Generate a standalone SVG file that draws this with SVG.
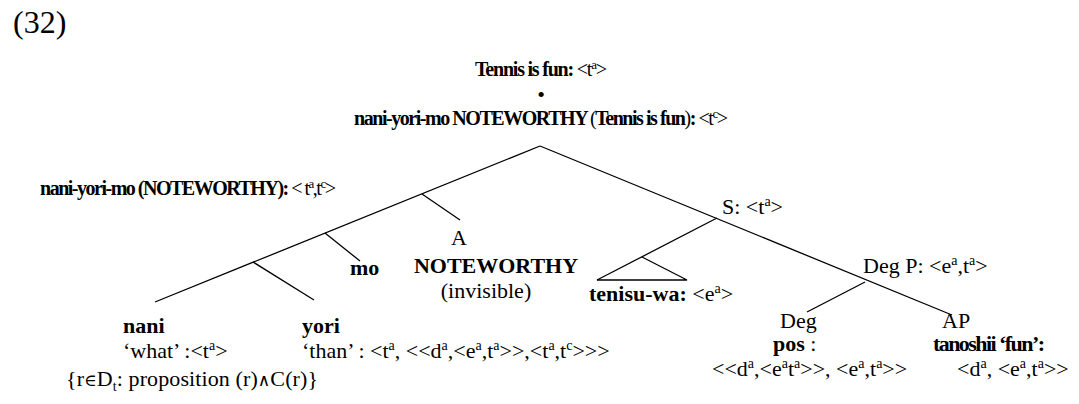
<svg xmlns="http://www.w3.org/2000/svg" width="1079" height="404" viewBox="0 0 1079 404">
<style>
text{font-family:"Liberation Serif","Times New Roman",serif;font-size:22px;fill:#000}
.b{font-weight:bold}
.s{font-size:14px}
.h{font-size:20px}
.h .s{font-size:13px}
.m{text-anchor:middle}
.y{font-family:"DejaVu Serif",serif;font-size:17px}
line,polyline{stroke:#000;stroke-width:1.3;fill:none}
</style>
<rect width="1079" height="404" fill="#fff"/>
<text x="13" y="33" style="font-size:32px">(32)</text>
<g id="root">
<text x="475" y="76" class="h" textLength="132" lengthAdjust="spacing"><tspan class="b">Tennis is fun:</tspan> &lt;t<tspan class="s" dy="-7">a</tspan><tspan dy="7">&gt;</tspan></text>
<text x="541" y="102" class="m">•</text>
<text x="354" y="125" class="h" textLength="374" lengthAdjust="spacing"><tspan class="b">nani-yori-mo NOTEWORTHY </tspan>(<tspan class="b">Tennis is fun</tspan>)<tspan class="b">:</tspan> &lt;t<tspan class="s" dy="-7">c</tspan><tspan dy="7">&gt;</tspan></text>
</g>
<g id="connectors">
<line x1="540" y1="146" x2="155" y2="302"/>
<line x1="540" y1="146" x2="952" y2="315"/>
<line x1="422" y1="194" x2="460" y2="220"/>
<line x1="325" y1="233" x2="360" y2="261"/>
<line x1="253" y1="262" x2="314" y2="300"/>
<line x1="717" y1="218" x2="597" y2="280"/>
<polyline points="642,257 687,280 597,280"/>
<line x1="865" y1="282" x2="807" y2="312"/>
</g>
<g id="n-nanyorimo">
<text x="40" y="195" class="h" textLength="296" lengthAdjust="spacing"><tspan class="b">nani-yori-mo (NOTEWORTHY):</tspan> &lt; t<tspan class="s" dy="-7">a</tspan><tspan dy="7">,t</tspan><tspan class="s" dy="-7">c</tspan><tspan dy="7">&gt;</tspan></text>
</g>
<g id="n-A">
<text x="459" y="245" class="m">A</text>
<text x="496" y="273" class="m b">NOTEWORTHY</text>
<text x="486" y="298" class="m">(invisible)</text>
</g>
<g id="n-mo">
<text x="350" y="275" class="b">mo</text>
</g>
<g id="n-nani">
<text x="123" y="333" class="b">nani</text>
<text x="123" y="358">‘what’ :&lt;t<tspan class="s" dy="-8">a</tspan><tspan dy="8">&gt;</tspan></text>
<text x="66" y="386" textLength="252" lengthAdjust="spacing">{r<tspan class="y">∈</tspan>D<tspan class="s" dy="5">t</tspan><tspan dy="-5">: proposition (r)</tspan><tspan class="y">∧</tspan>C(r)}</text>
</g>
<g id="n-yori">
<text x="302" y="333" class="b">yori</text>
<text x="302" y="358">‘than’ : &lt;t<tspan class="s" dy="-8">a</tspan><tspan dy="8">, &lt;&lt;d</tspan><tspan class="s" dy="-8">a</tspan><tspan dy="8">,&lt;e</tspan><tspan class="s" dy="-8">a</tspan><tspan dy="8">,t</tspan><tspan class="s" dy="-8">a</tspan><tspan dy="8">&gt;&gt;,&lt;t</tspan><tspan class="s" dy="-8">a</tspan><tspan dy="8">,t</tspan><tspan class="s" dy="-8">c</tspan><tspan dy="8">&gt;&gt;&gt;</tspan></text>
</g>
<g id="n-S">
<text x="722" y="214">S: &lt;t<tspan class="s" dy="-8">a</tspan><tspan dy="8">&gt;</tspan></text>
</g>
<g id="n-tenisuwa">
<text x="589" y="301"><tspan class="b">tenisu-wa:</tspan> &lt;e<tspan class="s" dy="-8">a</tspan><tspan dy="8">&gt;</tspan></text>
</g>
<g id="n-DegP">
<text x="863" y="273">Deg P: &lt;e<tspan class="s" dy="-8">a</tspan><tspan dy="8">,t</tspan><tspan class="s" dy="-8">a</tspan><tspan dy="8">&gt;</tspan></text>
</g>
<g id="n-Deg">
<text x="780" y="328">Deg</text>
<text x="773" y="351"><tspan class="b">pos</tspan> :</text>
<text x="712" y="376">&lt;&lt;d<tspan class="s" dy="-8">a</tspan><tspan dy="8">,&lt;e</tspan><tspan class="s" dy="-8">a</tspan><tspan dy="8">t</tspan><tspan class="s" dy="-8">a</tspan><tspan dy="8">&gt;&gt;, &lt;e</tspan><tspan class="s" dy="-8">a</tspan><tspan dy="8">,t</tspan><tspan class="s" dy="-8">a</tspan><tspan dy="8">&gt;&gt;</tspan></text>
</g>
<g id="n-AP">
<text x="942" y="328">AP</text>
<text x="933" y="351" class="b" textLength="112" lengthAdjust="spacing">tanoshii ‘fun’:</text>
<text x="957" y="376">&lt;d<tspan class="s" dy="-8">a</tspan><tspan dy="8">, &lt;e</tspan><tspan class="s" dy="-8">a</tspan><tspan dy="8">,t</tspan><tspan class="s" dy="-8">a</tspan><tspan dy="8">&gt;&gt;</tspan></text>
</g>
</svg>
